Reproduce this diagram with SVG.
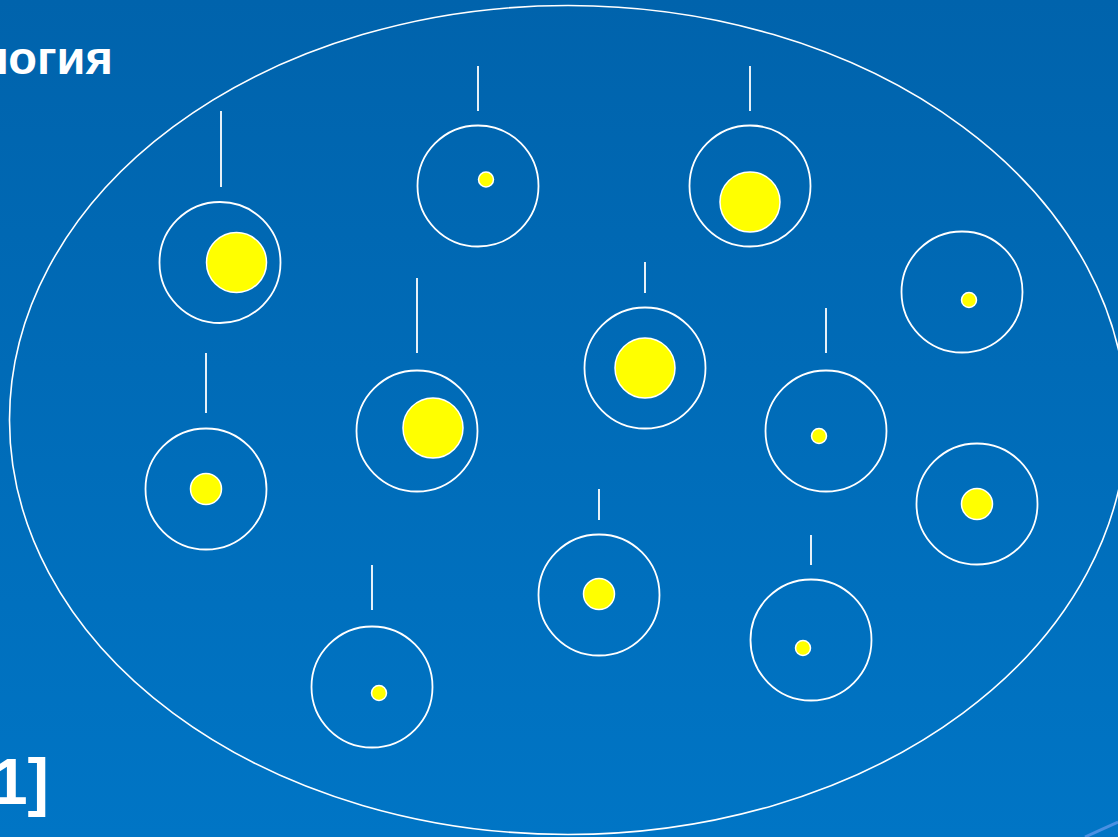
<svg xmlns="http://www.w3.org/2000/svg" width="1118" height="837" viewBox="0 0 1118 837">
<defs>
<linearGradient id="bg" x1="0" y1="0" x2="0" y2="1">
<stop offset="0" stop-color="#0063AC"/>
<stop offset="1" stop-color="#0075C5"/>
</linearGradient>
<style>
.outer{fill:none;stroke:#FFFFFF;stroke-width:1.8}
.dot{fill:#FFFF00;stroke:#FFFFFF;stroke-width:1.5}
.stem{stroke:#FFFFFF;stroke-width:1.8}
.lbl{font-family:"Liberation Sans",Arial,sans-serif;font-weight:bold;fill:#FFFFFF}
</style>
</defs>
<rect width="1118" height="837" fill="url(#bg)"/>
<path d="M1085,837 Q1100,830 1118,822" fill="none" stroke="#4A90E2" stroke-width="3"/>
<ellipse id="set" cx="568" cy="420" rx="558.5" ry="414.5" fill="none" stroke="#FFFFFF" stroke-width="1.6"/>
<text id="title" class="lbl" x="-21" y="74" font-size="47">логия</text>
<text id="ref" class="lbl" x="-8" y="804" font-size="64">1]</text>
<g id="connectors">
<line class="stem" x1="221" y1="111" x2="221" y2="187"/>
<line class="stem" x1="478" y1="66" x2="478" y2="111"/>
<line class="stem" x1="750" y1="66" x2="750" y2="111"/>
<line class="stem" x1="645" y1="262" x2="645" y2="293"/>
<line class="stem" x1="417" y1="278" x2="417" y2="353"/>
<line class="stem" x1="826" y1="308" x2="826" y2="353"/>
<line class="stem" x1="206" y1="353" x2="206" y2="413"/>
<line class="stem" x1="599" y1="489" x2="599" y2="520"/>
<line class="stem" x1="811" y1="535" x2="811" y2="565"/>
<line class="stem" x1="372" y1="565" x2="372" y2="610"/>
</g>
<g id="n1"><circle class="outer" cx="220" cy="262.5" r="60.5"/><circle class="dot" cx="236.5" cy="262.5" r="30"/></g>
<g id="n2"><circle class="outer" cx="478" cy="186" r="60.5"/><circle class="dot" cx="486" cy="179.5" r="7.5"/></g>
<g id="n3"><circle class="outer" cx="750" cy="186" r="60.5"/><circle class="dot" cx="750" cy="202" r="30"/></g>
<g id="n4"><circle class="outer" cx="962" cy="292" r="60.5"/><circle class="dot" cx="969" cy="300" r="7.5"/></g>
<g id="n5"><circle class="outer" cx="645" cy="368" r="60.5"/><circle class="dot" cx="645" cy="368" r="30"/></g>
<g id="n6"><circle class="outer" cx="417" cy="431" r="60.5"/><circle class="dot" cx="433" cy="428" r="30"/></g>
<g id="n7"><circle class="outer" cx="826" cy="431" r="60.5"/><circle class="dot" cx="819" cy="436" r="7.5"/></g>
<g id="n8"><circle class="outer" cx="206" cy="489" r="60.5"/><circle class="dot" cx="206" cy="489" r="15.5"/></g>
<g id="n9"><circle class="outer" cx="977" cy="504" r="60.5"/><circle class="dot" cx="977" cy="504" r="15.5"/></g>
<g id="n10"><circle class="outer" cx="599" cy="595" r="60.5"/><circle class="dot" cx="599" cy="594" r="15.5"/></g>
<g id="n11"><circle class="outer" cx="811" cy="640" r="60.5"/><circle class="dot" cx="803" cy="648" r="7.5"/></g>
<g id="n12"><circle class="outer" cx="372" cy="687" r="60.5"/><circle class="dot" cx="379" cy="693" r="7.5"/></g>
</svg>
